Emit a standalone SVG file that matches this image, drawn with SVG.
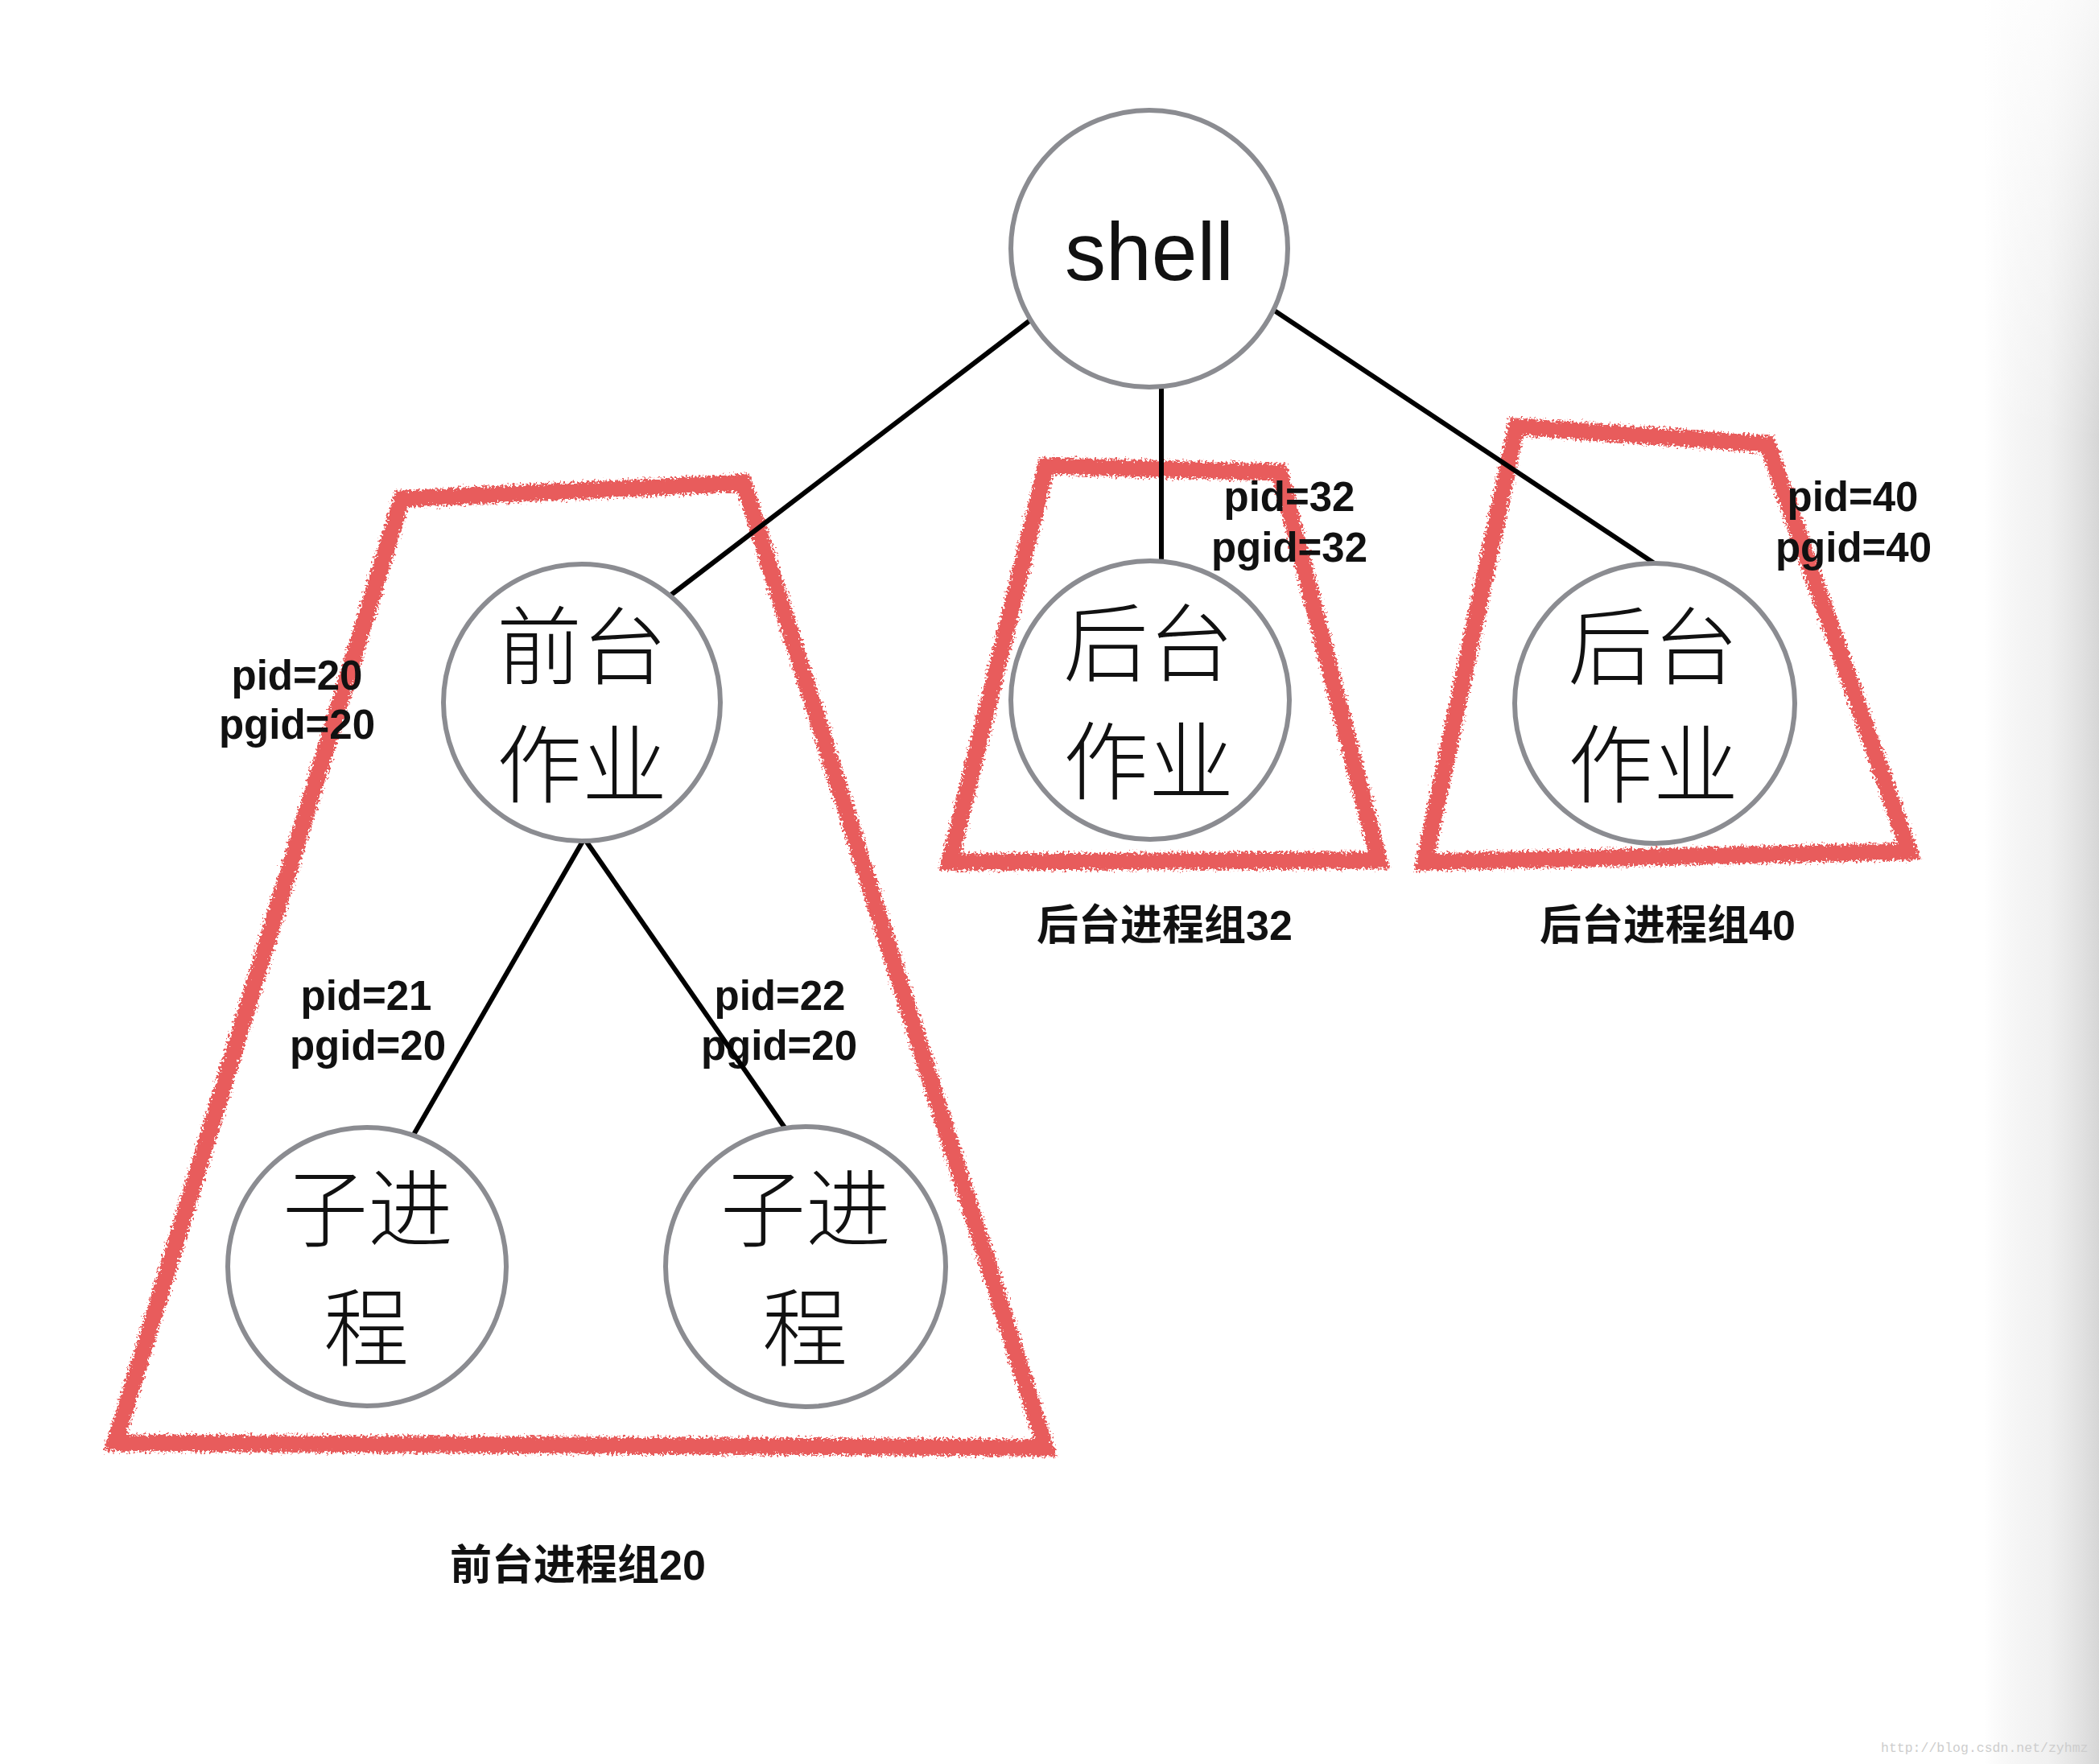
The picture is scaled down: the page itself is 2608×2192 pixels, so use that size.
<svg xmlns="http://www.w3.org/2000/svg" width="2608" height="2192" viewBox="0 0 2608 2192">
  <style>
    .node { fill: #ffffff; stroke: #8b8c91; stroke-width: 6; }
    .cjk { font-family: "Noto Sans CJK SC", "Noto Sans CJK TC", sans-serif; font-size: 106px; font-weight: 300; fill: #111111; text-anchor: middle; }
    .shell { font-family: "Liberation Sans", "Noto Sans", sans-serif; font-size: 102px; font-weight: normal; fill: #111111; text-anchor: middle; }
    .lbl { font-family: "Liberation Sans", "Noto Sans CJK SC", sans-serif; font-size: 51px; font-weight: bold; fill: #111111; text-anchor: middle; }
    .grp { font-family: "Liberation Sans", "Noto Sans CJK SC", sans-serif; font-size: 52px; font-weight: bold; fill: #111111; text-anchor: middle; }
    .edge { stroke: #000000; stroke-width: 6; fill: none; stroke-linecap: butt; }
    .trap { fill: none; stroke: #e85c5c; stroke-width: 21; stroke-linejoin: miter; filter: url(#rough); }
    .wm { font-family: "Liberation Mono", "DejaVu Sans Mono", monospace; font-size: 16.5px; fill: #cdcdcd; }
  </style>
  <defs>
    <filter id="rough" x="-5%" y="-5%" width="110%" height="110%">
      <feTurbulence type="fractalNoise" baseFrequency="0.35" numOctaves="2" seed="7" result="n"/>
      <feDisplacementMap in="SourceGraphic" in2="n" scale="14" xChannelSelector="R" yChannelSelector="G"/>
    </filter>
    <linearGradient id="shadeH" x1="0" y1="0" x2="1" y2="0">
      <stop offset="0" stop-color="#d8d8d8" stop-opacity="0"/>
      <stop offset="0.55" stop-color="#e8e8e8" stop-opacity="0.6"/>
      <stop offset="1" stop-color="#d6d6d6" stop-opacity="1"/>
    </linearGradient>
    <linearGradient id="shadeV" x1="0" y1="0" x2="0" y2="1">
      <stop offset="0" stop-color="#ffffff" stop-opacity="0.8"/>
      <stop offset="0.25" stop-color="#ffffff" stop-opacity="0"/>
      <stop offset="1" stop-color="#ffffff" stop-opacity="0"/>
    </linearGradient>
  </defs>

  <rect x="0" y="0" width="2608" height="2192" fill="#ffffff"/>
  <rect x="2465" y="0" width="143" height="2192" fill="url(#shadeH)"/>
  <rect x="2465" y="0" width="143" height="2192" fill="url(#shadeV)"/>

  <g id="groups">
    <g id="group-fg20">
      <polygon class="trap" points="499,620 924,600 1299,1799 143,1793"/>
      <text class="grp" x="718" y="1963">前台进程组20</text>
    </g>
    <g id="group-bg32">
      <polygon class="trap" points="1300,579 1590,587 1713,1069 1180,1071"/>
      <text class="grp" x="1447" y="1168">后台进程组32</text>
    </g>
    <g id="group-bg40">
      <polygon class="trap" points="1884,530 2196,552 2372,1058 1770,1071"/>
      <text class="grp" x="2072" y="1168">后台进程组40</text>
    </g>
  </g>

  <g id="labels">
    <text class="lbl" x="369" y="857">pid=20</text>
    <text class="lbl" x="369" y="918">pgid=20</text>
    <text class="lbl" x="455" y="1255">pid=21</text>
    <text class="lbl" x="457" y="1317">pgid=20</text>
    <text class="lbl" x="969" y="1255">pid=22</text>
    <text class="lbl" x="968" y="1317">pgid=20</text>
    <text class="lbl" x="1602" y="635">pid=32</text>
    <text class="lbl" x="1602" y="698">pgid=32</text>
    <text class="lbl" x="2302" y="635">pid=40</text>
    <text class="lbl" x="2303" y="698">pgid=40</text>
  </g>

  <g id="connectors">
    <line class="edge" x1="1280" y1="398" x2="834" y2="739"/>
    <line class="edge" x1="1443" y1="480" x2="1443" y2="697"/>
    <line class="edge" x1="1579" y1="383" x2="2063" y2="705"/>
    <line class="edge" x1="726" y1="1042" x2="507" y2="1422"/>
    <line class="edge" x1="726" y1="1042" x2="979" y2="1407"/>
  </g>

  <g id="shell">
    <circle class="node" cx="1428" cy="309" r="172"/>
    <text class="shell" x="1428" y="348">shell</text>
  </g>

  <g id="fg-job">
    <circle class="node" cx="723" cy="873" r="172"/>
    <text class="cjk" x="723" y="842">前台</text>
    <text class="cjk" x="723" y="989">作业</text>
  </g>

  <g id="bg-job-32">
    <circle class="node" cx="1429" cy="870" r="173"/>
    <text class="cjk" x="1427" y="838">后台</text>
    <text class="cjk" x="1427" y="985">作业</text>
  </g>

  <g id="bg-job-40">
    <circle class="node" cx="2056" cy="874" r="174"/>
    <text class="cjk" x="2054" y="842">后台</text>
    <text class="cjk" x="2054" y="989">作业</text>
  </g>

  <g id="child-21">
    <circle class="node" cx="456" cy="1574" r="173"/>
    <text class="cjk" x="457" y="1541">子进</text>
    <text class="cjk" x="455" y="1689">程</text>
  </g>

  <g id="child-22">
    <circle class="node" cx="1001" cy="1574" r="174"/>
    <text class="cjk" x="1001" y="1541">子进</text>
    <text class="cjk" x="1000" y="1689">程</text>
  </g>

  <text class="wm" x="2337" y="2177">http://blog.csdn.net/zyhmz</text>
</svg>
